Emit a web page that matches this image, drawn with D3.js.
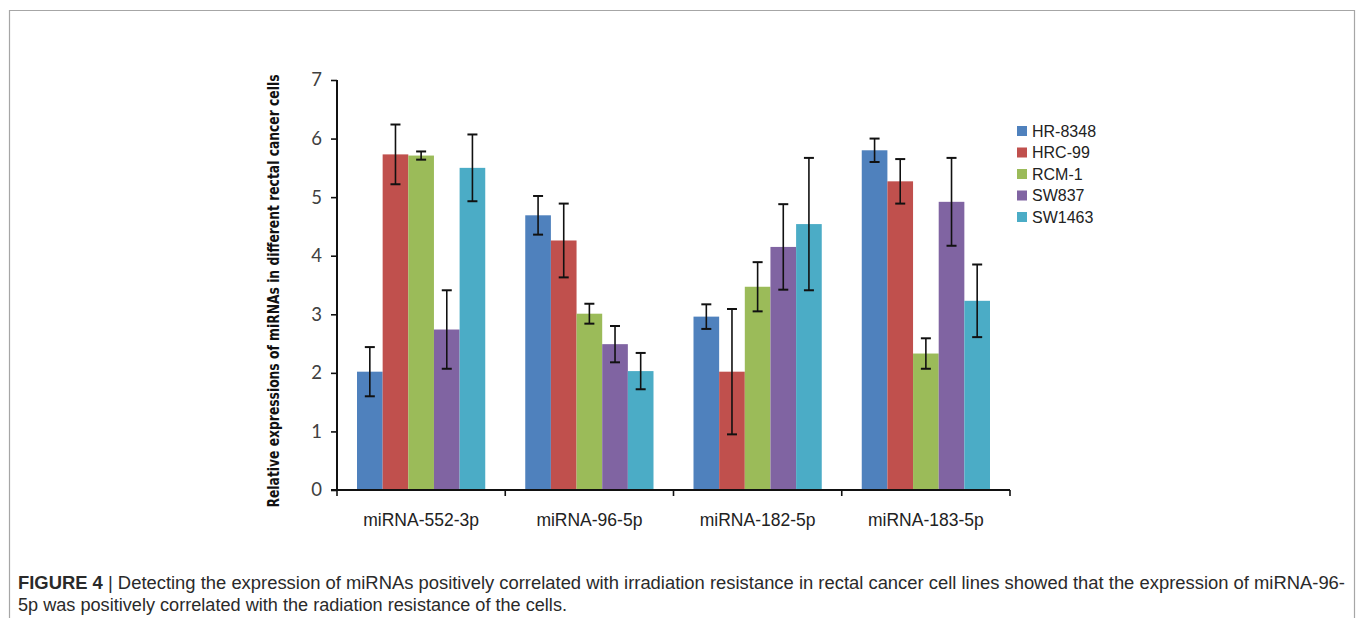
<!DOCTYPE html>
<html><head><meta charset="utf-8">
<script src="https://cdn.jsdelivr.net/npm/d3@7"></script>
<style>body{margin:0;background:#fff}svg{display:block}</style>
</head><body>
<svg id="c" width="1357" height="618"></svg>
<script>
const categories = ["miRNA-552-3p","miRNA-96-5p","miRNA-182-5p","miRNA-183-5p"];
const seriesNames = ["HR-8348","HRC-99","RCM-1","SW837","SW1463"];
const colors = ["#4F81BD","#C0504D","#9BBB59","#8064A2","#4BACC6"];
// values per series across categories
const values = [
  [2.02, 4.69, 2.96, 5.80],
  [5.73, 4.26, 2.02, 5.27],
  [5.71, 3.01, 3.47, 2.33],
  [2.74, 2.49, 4.15, 4.92],
  [5.50, 2.03, 4.54, 3.23]
];
const errors = [
  [0.42, 0.33, 0.21, 0.20],
  [0.51, 0.63, 1.07, 0.38],
  [0.07, 0.17, 0.42, 0.26],
  [0.67, 0.31, 0.73, 0.75],
  [0.57, 0.31, 1.13, 0.62]
];
const yTicks = [0,1,2,3,4,5,6,7];
const yTitle = "Relative expressions of miRNAs in different rectal cancer cells";
const captionBold = "FIGURE 4";
const captionLine1 = " | Detecting the expression of miRNAs positively correlated with irradiation resistance in rectal cancer cell lines showed that the expression of miRNA-96-";
const captionLine2 = "5p was positively correlated with the radiation resistance of the cells.";

const svg = d3.select("#c");
// frame
svg.append("path").attr("d","M9.5,618 V10.5 H1354.5 V618").attr("fill","none").attr("stroke","#a6a6a6").attr("stroke-width",1.2);

const pL = 337, pR = 1010, pT = 80, pB = 490;
const x0 = d3.scaleBand().domain(categories).range([pL,pR]).paddingInner(0).paddingOuter(0);
const x1 = d3.scaleBand().domain(seriesNames).range([20, x0.bandwidth()-20]).padding(0);
const y = d3.scaleLinear().domain([0,7]).range([pB, pT]);

const g = svg.append("g");
// bars
seriesNames.forEach((s,si)=>{
  g.selectAll(null).data(categories).enter().append("rect")
    .attr("x", c=>x0(c)+x1(s))
    .attr("y", (c,ci)=>y(values[si][ci]))
    .attr("width", x1.bandwidth())
    .attr("height", (c,ci)=>y(0)-y(values[si][ci]))
    .attr("fill", colors[si]);
});
// error bars
seriesNames.forEach((s,si)=>{
  categories.forEach((c,ci)=>{
    const cx = x0(c)+x1(s)+x1.bandwidth()/2;
    const v = values[si][ci], e = errors[si][ci];
    const yt = y(v+e), yb = y(v-e);
    g.append("line").attr("x1",cx).attr("x2",cx).attr("y1",yt).attr("y2",yb).attr("stroke","#111").attr("stroke-width",1.6);
    [yt,yb].forEach(yy=>g.append("line").attr("x1",cx-5).attr("x2",cx+5).attr("y1",yy).attr("y2",yy).attr("stroke","#111").attr("stroke-width",2));
  });
});

// y axis
const yAxis = svg.append("g").attr("transform",`translate(${pL},0)`)
  .call(d3.axisLeft(y).tickValues(yTicks).tickSize(6).tickPadding(9).tickFormat(d3.format("d")));
yAxis.select(".domain").attr("stroke","#111").attr("stroke-width",2).attr("d",`M0,${pT}H0V${pB}`);
yAxis.selectAll(".tick line").attr("stroke","#111").attr("stroke-width",1.6);
yAxis.selectAll(".tick text").attr("font-family","Lato, 'Open Sans', sans-serif").attr("font-size",18.5).attr("fill","#404040");
// x axis
const xAxis = svg.append("g").attr("transform",`translate(0,${pB})`);
xAxis.append("line").attr("x1",pL-6).attr("x2",pR).attr("y1",0).attr("y2",0).attr("stroke","#111").attr("stroke-width",2);
const bounds = categories.map(c=>x0(c)).concat([pR]);
xAxis.selectAll(null).data(bounds).enter().append("line")
  .attr("x1",d=>d).attr("x2",d=>d).attr("y1",0).attr("y2",6).attr("stroke","#111").attr("stroke-width",1.6);
xAxis.selectAll(null).data(categories).enter().append("text")
  .attr("x",c=>x0(c)+x0.bandwidth()/2).attr("y",36)
  .attr("text-anchor","middle").attr("font-family","'Liberation Sans', Arial, sans-serif").attr("font-size",17.5).attr("fill","#222")
  .text(c=>c);

// y title
svg.append("text").attr("transform","translate(279,291) rotate(-90)")
  .attr("text-anchor","middle").attr("font-family","'Liberation Sans Narrow','DejaVu Sans Condensed','Liberation Sans',sans-serif")
  .attr("font-weight","bold").attr("font-size",16).attr("fill","#111")
  .attr("textLength",433).attr("lengthAdjust","spacingAndGlyphs")
  .text(yTitle);

// legend
const lg = svg.append("g").attr("transform","translate(1017,131)");
seriesNames.forEach((s,i)=>{
  const r = lg.append("g").attr("transform",`translate(0,${i*21.5})`);
  r.append("rect").attr("x",0).attr("y",-5).attr("width",10).attr("height",10).attr("fill",colors[i]);
  r.append("text").attr("x",15).attr("y",5.5).attr("font-family","'Liberation Sans', Arial, sans-serif").attr("font-size",16).attr("fill","#222").text(s);
});

// caption
const cap = svg.append("text").attr("x",18).attr("y",589).attr("font-family","'Liberation Sans Narrow','Liberation Sans',sans-serif").attr("font-size",17.5).attr("fill","#2a2a2a")
  .attr("textLength",1327).attr("lengthAdjust","spacingAndGlyphs");
cap.append("tspan").attr("font-weight","bold").text(captionBold);
cap.append("tspan").text(captionLine1);
svg.append("text").attr("x",18).attr("y",611).attr("font-family","'Liberation Sans Narrow','Liberation Sans',sans-serif").attr("font-size",17.5).attr("fill","#2a2a2a")
  .attr("textLength",549).attr("lengthAdjust","spacingAndGlyphs")
  .text(captionLine2);
</script>
</body></html>
